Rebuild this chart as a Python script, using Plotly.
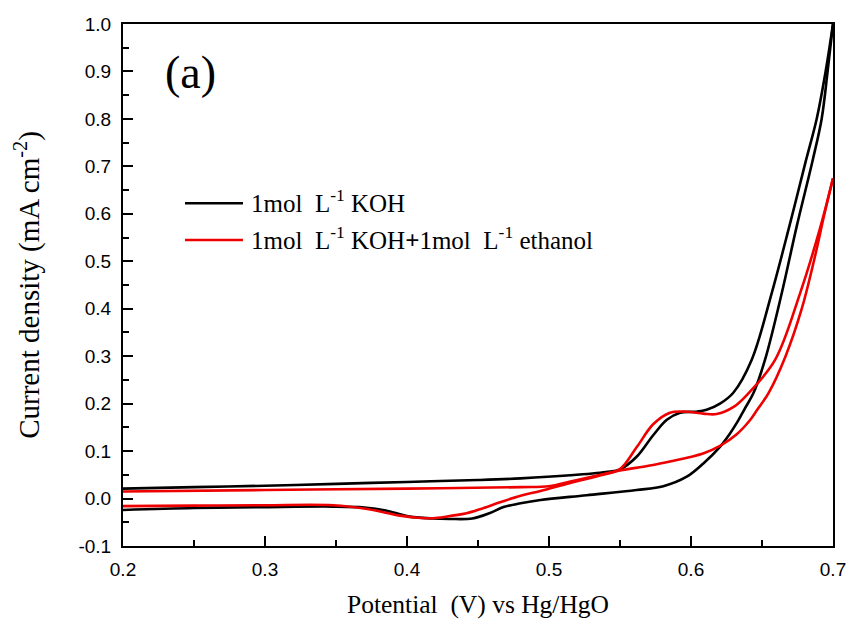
import plotly.graph_objects as go

# Cyclic voltammograms: potential (V vs Hg/HgO) and current density (mA cm^-2),
# listed in scan order around each closed loop (0.2 V -> 0.7 V -> 0.2 V).
koh_potential = [
    0.200, 0.250, 0.300, 0.350, 0.400, 0.450, 0.480, 0.515, 0.540, 0.550,
    0.5617, 0.5735, 0.583, 0.5923, 0.604, 0.611, 0.6204, 0.6298, 0.6427, 0.6568,
    0.6692, 0.681, 0.6885, 0.6948, 0.700,
    0.6962, 0.692, 0.6857, 0.6744, 0.6639, 0.6521, 0.6439, 0.638, 0.633, 0.627,
    0.6204, 0.6087, 0.597, 0.5805, 0.5617, 0.5265, 0.494, 0.480, 0.468, 0.458,
    0.446, 0.430, 0.418, 0.400, 0.385, 0.370, 0.348, 0.300, 0.250, 0.200,
]
koh_current = [
    0.021, 0.024, 0.027, 0.031, 0.035, 0.039, 0.0425, 0.049, 0.056, 0.0615,
    0.088, 0.134, 0.166, 0.181, 0.183, 0.187, 0.200, 0.223, 0.292, 0.4325,
    0.573, 0.713, 0.800, 0.900, 1.000,
    0.900, 0.800, 0.713, 0.573, 0.4325, 0.292, 0.2217, 0.190, 0.163, 0.135,
    0.109, 0.074, 0.046, 0.026, 0.018, 0.007, -0.003, -0.010, -0.018, -0.031,
    -0.042, -0.043, -0.042, -0.037, -0.025, -0.019, -0.017, -0.018, -0.020, -0.024,
]

eth_potential = [
    0.200, 0.250, 0.300, 0.348, 0.372, 0.395, 0.410, 0.420, 0.432, 0.442,
    0.452, 0.4655, 0.480, 0.494, 0.515, 0.538, 0.550, 0.5617, 0.5735, 0.5852,
    0.597, 0.6087, 0.618, 0.630, 0.6404, 0.6592, 0.6768, 0.6912, 0.700,
    0.694, 0.6865, 0.678, 0.6666, 0.6545, 0.6465, 0.6415, 0.632, 0.6204, 0.6085,
    0.5852, 0.570, 0.550, 0.530, 0.515, 0.500, 0.480, 0.400, 0.300, 0.200,
]
eth_current = [
    -0.016, -0.015, -0.014, -0.014, -0.022, -0.036, -0.041, -0.041, -0.036, -0.031,
    -0.022, -0.008, 0.006, 0.016, 0.033, 0.050, 0.062, 0.108, 0.157, 0.181,
    0.183, 0.179, 0.178, 0.193, 0.2217, 0.292, 0.4325, 0.573, 0.675,
    0.600, 0.500, 0.400, 0.300, 0.2217, 0.1865, 0.165, 0.135, 0.111, 0.095,
    0.078, 0.069, 0.059, 0.046, 0.036, 0.026, 0.024, 0.021, 0.018, 0.015,
]

series_names = [
    "1mol\u00a0\u00a0L<sup>-1</sup> KOH",
    "1mol\u00a0\u00a0L<sup>-1</sup> KOH<b>+</b>1mol\u00a0\u00a0L<sup>-1</sup> ethanol",
]
series_colors = ["#000000", "#ee0000"]

x_tickvals = [0.2, 0.3, 0.4, 0.5, 0.6, 0.7]
x_ticktext = ["0.2", "0.3", "0.4", "0.5", "0.6", "0.7"]
y_tickvals = [-0.1, 0.0, 0.1, 0.2, 0.3, 0.4, 0.5, 0.6, 0.7, 0.8, 0.9, 1.0]
y_ticktext = ["-0.1", "0.0", "0.1", "0.2", "0.3", "0.4", "0.5", "0.6", "0.7", "0.8", "0.9", "1.0"]

SERIF = "Liberation Serif, Times New Roman, serif"
SANS = "Liberation Sans, Arial, sans-serif"

fig = go.Figure()
for xs, ys, name, color in zip(
    [koh_potential, eth_potential],
    [koh_current, eth_current],
    series_names,
    series_colors,
):
    # split each loop at the vertex potential so the anodic and cathodic
    # sweeps are smoothed independently and keep a sharp turning point
    turn = xs.index(max(xs))
    for seg in (slice(0, turn + 1), slice(turn, len(xs))):
        fig.add_trace(go.Scatter(
            x=xs[seg], y=ys[seg], mode="lines", name=name, legendgroup=name,
            showlegend=False,
            line=dict(color=color, width=2.6, shape="spline", smoothing=1.0),
        ))

# Hand-drawn legend: long line samples followed by serif labels
legend_rows_y = [0.6565, 0.5862]
for name, color, ly in zip(series_names, series_colors, legend_rows_y):
    fig.add_shape(type="line", xref="paper", yref="paper",
                  x0=0.0873, x1=0.169, y0=ly, y1=ly,
                  line=dict(color=color, width=2.6))
    fig.add_annotation(xref="paper", yref="paper", x=0.177, y=ly + 0.004,
                       text=name, showarrow=False, xanchor="left", yanchor="middle",
                       font=dict(family=SERIF, size=25, color="black"))

fig.add_annotation(xref="paper", yref="paper", x=0.057, y=0.908, text="(a)",
                   showarrow=False, xanchor="left", yanchor="middle",
                   font=dict(family=SERIF, size=46, color="black"))

axis_common = dict(
    showline=True, linewidth=2, linecolor="black", mirror=True,
    ticks="inside", ticklen=10, tickwidth=2, tickcolor="black",
    showgrid=False, zeroline=False,
    tickfont=dict(family=SANS, size=19, color="black"),
    minor=dict(ticks="inside", ticklen=6, tickwidth=2, tickcolor="black"),
)

fig.update_xaxes(
    range=[0.2, 0.7], tickvals=x_tickvals, ticktext=x_ticktext,
    minor_dtick=0.05, minor_tick0=0.2, ticklabelstandoff=5,
    title=dict(text="Potential\u00a0\u00a0(V) vs Hg/HgO", standoff=16,
               font=dict(family=SERIF, size=25.5, color="black")),
    **axis_common,
)
fig.update_yaxes(
    range=[-0.1, 1.0], tickvals=y_tickvals, ticktext=y_ticktext,
    minor_dtick=0.05, minor_tick0=-0.1, ticklabelstandoff=6,
    title=dict(text="Current density (mA cm<sup>-2</sup>)", standoff=30,
               font=dict(family=SERIF, size=29, color="black")),
    **axis_common,
)

fig.update_layout(
    width=851, height=625,
    margin=dict(l=123, r=18, t=24, b=79, autoexpand=False),
    paper_bgcolor="white", plot_bgcolor="white",
)

fig.write_html("out.html")
